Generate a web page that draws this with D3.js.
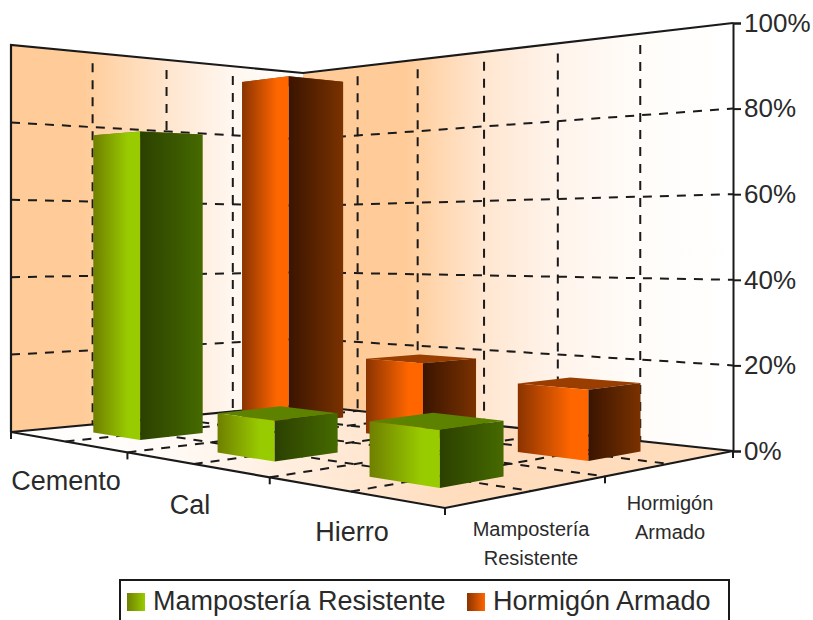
<!DOCTYPE html>
<html lang="es">
<head>
<meta charset="utf-8">
<script src="https://cdn.jsdelivr.net/npm/d3@7/dist/d3.min.js"></script>
<style>
  html, body { margin: 0; padding: 0; background: #fff; overflow: hidden; }
  text { font-family: "Liberation Sans", Arial, sans-serif; fill: #2a2a2a; }
</style>
</head>
<body>
<svg id="chart" width="813" height="620"></svg>
<script>
// Materials along the depth axis, wall systems along the side axis.
const categories = ["Cemento", "Cal", "Hierro"];
const seriesNames = ["Mampostería Resistente", "Hormigón Armado"];
const seriesLines = [["Mampostería", "Resistente"], ["Hormigón", "Armado"]];
const mamposteria = [76.5, 9.2, 11.8];
const hormigon = [93.5, 19, 16];
const percentTicks = [0, 20, 40, 60, 80, 100];

const svg = d3.select("#chart");

// Screen corners of the floor and heights of the walls.
const floor = { left: [11, 432], front: [445, 508], right: [733, 451], back: [303, 405] };
const wallTop = { left: 45, back: 73, right: 23 };

// Projective map of the unit floor square (c towards the front, s towards the right wall).
const p0 = floor.left, p1 = floor.front, p2 = floor.right, p3 = floor.back;
const dx1 = p1[0] - p2[0], dx2 = p3[0] - p2[0], sx = p0[0] - p1[0] + p2[0] - p3[0];
const dy1 = p1[1] - p2[1], dy2 = p3[1] - p2[1], sy = p0[1] - p1[1] + p2[1] - p3[1];
const det = dx1 * dy2 - dx2 * dy1;
const g = (sx * dy2 - dx2 * sy) / det;
const h = (dx1 * sy - sx * dy1) / det;

// The floor is not a perfectly regular grid: these scales carry its slight unevenness.
const depthWarp = d3.scaleLinear().domain([0, 1 / 3, 2 / 3, 1]).range([0, 0.356, 0.69, 1]);
const sideWarp = d3.scaleLinear()
  .domain([0, 0.25, 0.5, 0.65, 0.75, 0.85, 1])
  .range([0, 0.239, 0.48, 0.632, 0.719, 0.842, 1]);

function project(cRaw, sRaw) {
  const s = sideWarp(sRaw);
  const c = cRaw + (depthWarp(cRaw) - cRaw) * (1 - sRaw);
  const w = 1 + g * c + h * s;
  const x = ((p1[0] - p0[0] + g * p1[0]) * c + (p3[0] - p0[0] + h * p3[0]) * s + p0[0]) / w;
  const y = ((p1[1] - p0[1] + g * p1[1]) * c + (p3[1] - p0[1] + h * p3[1]) * s + p0[1]) / w;
  const iL = 1 / (p0[1] - wallTop.left);
  const iB = 1 / (p3[1] - wallTop.back);
  const iR = 1 / (p2[1] - wallTop.right);
  const fullHeight = 1 / (iL + (iR - iB) * c + (iB - iL) * s);
  return { x, y, fullHeight };
}

const valueScale = d3.scaleLinear().domain([0, 100]).range([0, 1]);
const pt = (c, s, v = 0) => {
  const p = project(c, s);
  return [p.x, p.y - valueScale(v) * p.fullHeight];
};
const polygon = pts => pts.map(p => p.join(",")).join(" ");

const depthBand = d3.scaleBand().domain(categories).range([0, 1]).paddingInner(0.6).paddingOuter(0.3);
const sideBand = d3.scaleBand().domain(seriesNames).range([0, 1]).paddingInner(0.6).paddingOuter(0.3);

// Gradients
const defs = svg.append("defs");
function gradient(id, stops, coords) {
  const lg = defs.append("linearGradient").attr("id", id);
  if (coords) {
    lg.attr("gradientUnits", "userSpaceOnUse")
      .attr("x1", coords[0]).attr("y1", coords[1]).attr("x2", coords[2]).attr("y2", coords[3]);
  }
  stops.forEach(([o, col]) => lg.append("stop").attr("offset", o).attr("stop-color", col));
}
gradient("wallLeft", [[0, "#ffcc99"], [0.25, "#ffcc99"], [0.54, "#ffe6cf"], [0.76, "#fff7f0"], [1, "#ffffff"]]);
gradient("wallRight", [[0, "#ffcc99"], [0.24, "#ffcc99"], [0.42, "#ffe6d0"], [0.58, "#fff3ea"], [0.78, "#fffcf9"], [1, "#ffffff"]]);
gradient("floorFill", [[0, "#ffffff"], [0.35, "#fffaf6"], [1, "#ffdcbc"]],
  [floor.left[0], floor.left[1], floor.front[0] + 20, floor.front[1] - 20]);
gradient("greenLight", [[0, "#6f7f00"], [0.75, "#99cc00"], [1, "#99cc00"]]);
gradient("greenDark", [[0, "#2b4000"], [1, "#466a00"]]);
gradient("orangeLight", [[0, "#8a3300"], [0.75, "#ff6600"], [1, "#ff6600"]]);
gradient("orangeDark", [[0, "#3a1400"], [1, "#7a3200"]]);
gradient("greenKey", [[0, "#6f7f00"], [1, "#99cc00"]]);
gradient("orangeKey", [[0, "#8a3300"], [1, "#ff6600"]]);

const palette = [
  { light: "url(#greenLight)", dark: "url(#greenDark)", top: "#5c8200" },
  { light: "url(#orangeLight)", dark: "url(#orangeDark)", top: "#993d00" }
];

// Walls and floor
const room = svg.append("g");
room.append("polygon")
  .attr("points", polygon([pt(0, 0, 100), pt(0, 1, 100), pt(0, 1), pt(0, 0)]))
  .attr("fill", "url(#wallLeft)");
room.append("polygon")
  .attr("points", polygon([pt(0, 1, 100), pt(1, 1, 100), pt(1, 1), pt(0, 1)]))
  .attr("fill", "url(#wallRight)");
room.append("polygon")
  .attr("points", polygon([pt(0, 0), pt(1, 0), pt(1, 1), pt(0, 1)]))
  .attr("fill", "url(#floorFill)");

// Dashed grid on walls and floor
const dashed = svg.append("g").attr("fill", "none").attr("stroke", "#1a1a1a")
  .attr("stroke-width", 2).attr("stroke-dasharray", "9 8");
const segment = (g0, a, b) => g0.append("line")
  .attr("x1", a[0]).attr("y1", a[1]).attr("x2", b[0]).attr("y2", b[1]);

percentTicks.filter(v => v > 0 && v < 100).forEach(v => {
  segment(dashed, pt(0, 0, v), pt(0, 1, v));
  segment(dashed, pt(0, 1, v), pt(1, 1, v));
});
[0.25, 0.5, 0.75].forEach(s => {
  segment(dashed, pt(0, s, 97), pt(0, s, 0));
  segment(dashed, pt(0, s), pt(1, s));
});
d3.range(1, 6).forEach(i => {
  const c = i / 6;
  segment(dashed, pt(c, 1, 97), pt(c, 1, 0));
  segment(dashed, pt(c, 0), pt(c, 1));
});

// Solid room outline
const outline = svg.append("g").attr("fill", "none").attr("stroke", "#1a1a1a").attr("stroke-width", 2.2);
outline.append("polyline").attr("points", polygon([pt(0, 0), pt(0, 0, 100), pt(0, 1, 100), pt(1, 1, 100)]));
outline.append("polyline").attr("points", polygon([pt(0, 0), pt(0, 1), pt(1, 1)]));
outline.append("polyline").attr("points", polygon([pt(0, 0), pt(1, 0), pt(1, 1)]));

// Columns, painted from the back corner towards the viewer
const rows = [];
seriesNames.forEach((name, j) => {
  const values = j === 0 ? mamposteria : hormigon;
  categories.forEach((cat, i) => rows.push({ cat, name, j, value: values[i] }));
});
rows.sort((a, b) =>
  (depthBand(a.cat) - sideBand(a.name)) - (depthBand(b.cat) - sideBand(b.name)));

const bars = svg.append("g").selectAll("g").data(rows).join("g");
const corners = d => {
  const c0 = depthBand(d.cat), c1 = c0 + depthBand.bandwidth();
  const s0 = sideBand(d.name), s1 = s0 + sideBand.bandwidth();
  return { c0, c1, s0, s1 };
};
bars.append("polygon")
  .attr("fill", d => palette[d.j].top)
  .attr("points", d => {
    const k = corners(d);
    return polygon([pt(k.c0, k.s0, d.value), pt(k.c1, k.s0, d.value), pt(k.c1, k.s1, d.value), pt(k.c0, k.s1, d.value)]);
  });
bars.append("polygon")
  .attr("fill", d => palette[d.j].light)
  .attr("points", d => {
    const k = corners(d);
    return polygon([pt(k.c0, k.s0, d.value), pt(k.c1, k.s0, d.value), pt(k.c1, k.s0), pt(k.c0, k.s0)]);
  });
bars.append("polygon")
  .attr("fill", d => palette[d.j].dark)
  .attr("points", d => {
    const k = corners(d);
    return polygon([pt(k.c1, k.s0, d.value), pt(k.c1, k.s1, d.value), pt(k.c1, k.s1), pt(k.c1, k.s0)]);
  });

// Percentage axis on the right edge
const yAxisScale = d3.scaleLinear().domain([0, 100]).range([floor.right[1], wallTop.right]);
const yAxis = svg.append("g")
  .attr("transform", `translate(${floor.right[0]},0)`)
  .call(d3.axisRight(yAxisScale).tickValues(percentTicks).tickSize(8).tickPadding(3)
    .tickFormat(d => d + "%"));
yAxis.select(".domain").attr("stroke", "#1a1a1a").attr("stroke-width", 2);
yAxis.selectAll(".tick line").attr("stroke", "#1a1a1a").attr("stroke-width", 2);
yAxis.selectAll(".tick text").attr("font-size", 26).attr("fill", "#2a2a2a")
  .style("font-family", '"Liberation Sans", Arial, sans-serif');

// Ticks under the front edges of the floor
const ticks = svg.append("g").attr("stroke", "#1a1a1a").attr("stroke-width", 2);
[0, 1 / 3, 2 / 3, 1].forEach(c => {
  const a = pt(c, 0);
  segment(ticks, a, [a[0], a[1] + 7]);
});
[0.5, 1].forEach(s => {
  const a = pt(1, s);
  segment(ticks, a, [a[0], a[1] + 7]);
});

// Material names
const catAnchors = [[66, 490], [190, 514], [352, 541]];
svg.append("g").selectAll("text").data(categories).join("text")
  .attr("x", (d, i) => catAnchors[i][0])
  .attr("y", (d, i) => catAnchors[i][1])
  .attr("text-anchor", "middle").attr("font-size", 27)
  .text(d => d);

// Wall-system names, in two lines
const sideAnchors = [[531, 536], [670, 510]];
const sideLabels = svg.append("g").selectAll("text").data(seriesLines).join("text")
  .attr("text-anchor", "middle").attr("font-size", 20);
sideLabels.selectAll("tspan").data((d, i) => d.map((t, k) => ({ t, k, i }))).join("tspan")
  .attr("x", d => sideAnchors[d.i][0])
  .attr("y", d => sideAnchors[d.i][1] + d.k * 29)
  .text(d => d.t);

// Legend, its lower edge runs off the page
const legend = svg.append("g");
legend.append("rect")
  .attr("x", 120).attr("y", 580).attr("width", 609).attr("height", 60)
  .attr("fill", "#fff").attr("stroke", "#1a1a1a").attr("stroke-width", 2);
const keyX = [127, 467];
const keyFill = ["url(#greenKey)", "url(#orangeKey)"];
seriesNames.forEach((name, j) => {
  legend.append("rect").attr("x", keyX[j]).attr("y", 593)
    .attr("width", 18).attr("height", 18).attr("fill", keyFill[j]);
  legend.append("text").attr("x", keyX[j] + 26).attr("y", 610)
    .attr("font-size", 27).text(name);
});
</script>
</body>
</html>
